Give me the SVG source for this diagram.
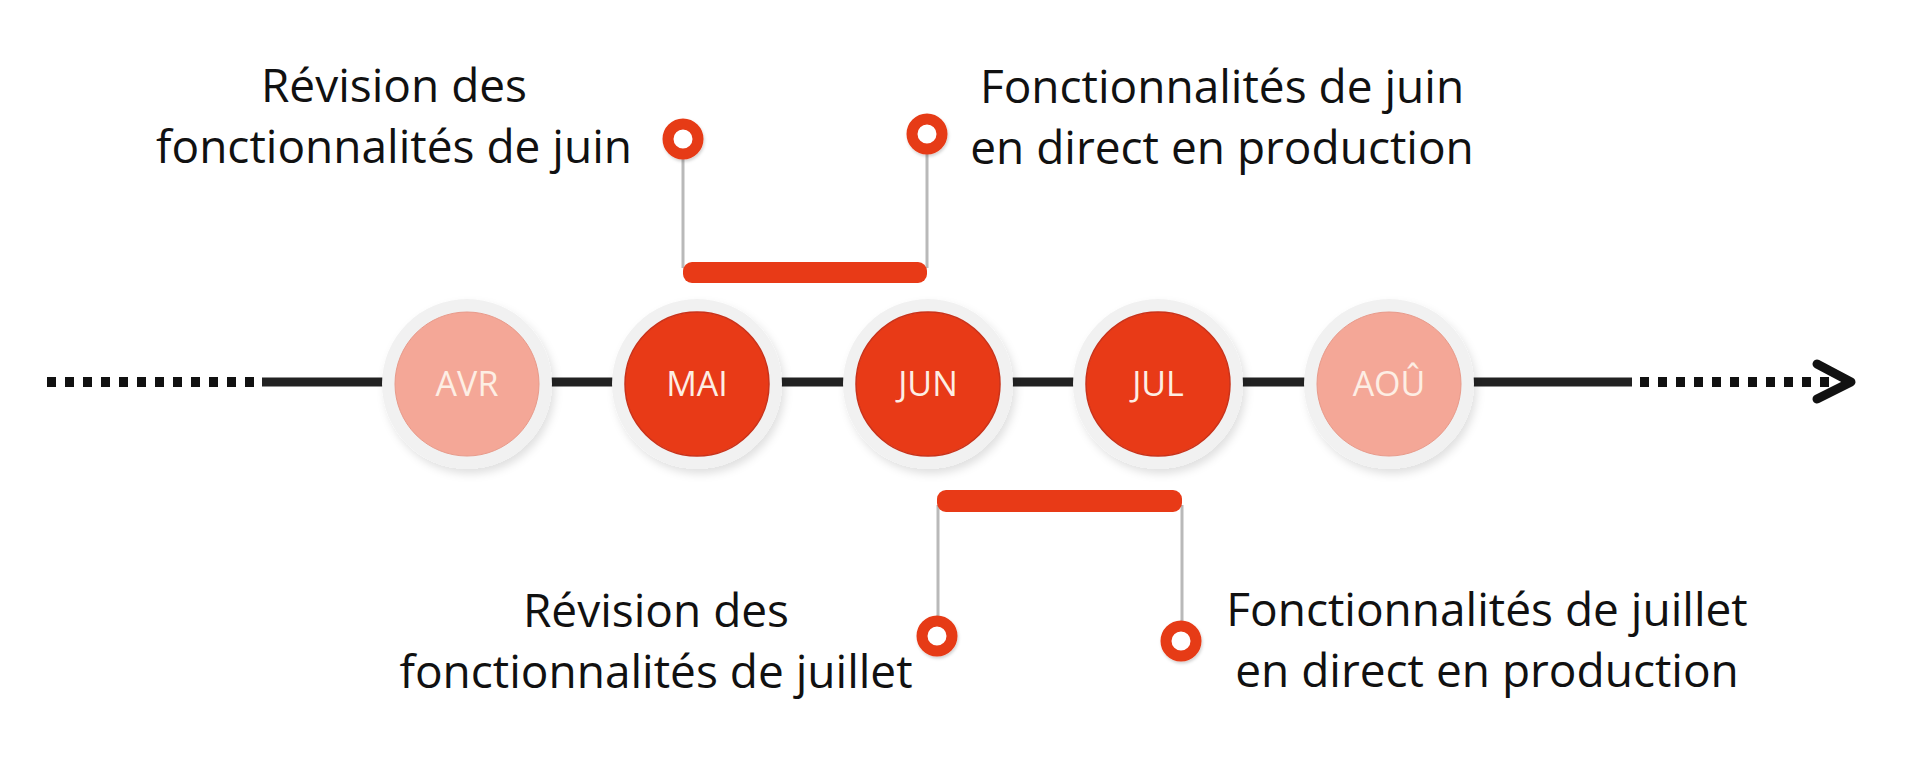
<svg xmlns="http://www.w3.org/2000/svg" width="1907" height="781" viewBox="0 0 1907 781">
<defs>
<filter id="sh" x="-30%" y="-30%" width="160%" height="160%">
<feDropShadow dx="3" dy="5" stdDeviation="4" flood-color="#000" flood-opacity="0.12"/>
</filter>
<filter id="sh2" x="-50%" y="-50%" width="200%" height="200%">
<feDropShadow dx="1" dy="2" stdDeviation="1.5" flood-color="#000" flood-opacity="0.18"/>
</filter>
</defs>
<style>
.ring{fill:#f1f1f1;filter:url(#sh)}
.dark{fill:#e83a17;stroke:#c9321a;stroke-width:1.5}
.light{fill:#f4a797;stroke:#e89a8a;stroke-width:1}
.mon{font-family:"Open Sans","Liberation Sans",sans-serif;font-size:34px;fill:#fdeee4;text-anchor:middle}
.lbl{font-family:"Open Sans","Liberation Sans",sans-serif;font-size:46px;fill:#111;text-anchor:middle}
.axis{stroke:#222;stroke-width:9;fill:none}
.dots{stroke:#111;stroke-width:10;stroke-dasharray:9 9;fill:none}
.stem{stroke:#b9b9b9;stroke-width:3;fill:none}
.bar{fill:#e83a17}
.pin{fill:#fff;stroke:#e63b19;stroke-width:11;filter:url(#sh2)}
</style>
<rect width="1907" height="781" fill="#fff"/>
<g id="connectors">
<line class="dots" x1="47" y1="382" x2="262" y2="382"/>
<line class="axis" x1="262" y1="382" x2="1632" y2="382"/>
<line class="dots" x1="1640" y1="382" x2="1838" y2="382"/>
<polyline points="1817,364 1851,382 1817,399" fill="none" stroke="#111" stroke-width="9" stroke-linecap="round" stroke-linejoin="round"/>
<line class="stem" x1="683" y1="150" x2="683" y2="268"/>
<line class="stem" x1="927" y1="145" x2="927" y2="268"/>
<rect class="bar" x="683" y="262" width="244" height="21" rx="9"/>
<line class="stem" x1="938" y1="505" x2="938" y2="625"/>
<line class="stem" x1="1182" y1="505" x2="1182" y2="630"/>
<rect class="bar" x="937" y="490" width="245" height="22" rx="9"/>
</g>
<g id="avr"><circle class="ring" cx="467" cy="384" r="85"/><circle class="light" cx="467" cy="384" r="72"/><text class="mon" x="467" y="396">AVR</text></g>
<g id="mai"><circle class="ring" cx="697" cy="384" r="85"/><circle class="dark" cx="697" cy="384" r="72"/><text class="mon" x="697" y="396">MAI</text></g>
<g id="jun"><circle class="ring" cx="928" cy="384" r="85"/><circle class="dark" cx="928" cy="384" r="72"/><text class="mon" x="928" y="396">JUN</text></g>
<g id="jul"><circle class="ring" cx="1158" cy="384" r="85"/><circle class="dark" cx="1158" cy="384" r="72"/><text class="mon" x="1158" y="396">JUL</text></g>
<g id="aou"><circle class="ring" cx="1389" cy="384" r="85"/><circle class="light" cx="1389" cy="384" r="72"/><text class="mon" x="1389" y="396">AOÛ</text></g>
<g id="jun-review"><circle class="pin" cx="683" cy="139" r="15"/><text class="lbl" x="394" y="102">Révision des</text><text class="lbl" x="394" y="163">fonctionnalités de juin</text></g>
<g id="jun-live"><circle class="pin" cx="927" cy="134" r="15"/><text class="lbl" x="1222" y="103">Fonctionnalités de juin</text><text class="lbl" x="1222" y="164">en direct en production</text></g>
<g id="jul-review"><circle class="pin" cx="937" cy="636" r="15"/><text class="lbl" x="656" y="627">Révision des</text><text class="lbl" x="656" y="688">fonctionnalités de juillet</text></g>
<g id="jul-live"><circle class="pin" cx="1181" cy="641" r="15"/><text class="lbl" x="1487" y="626">Fonctionnalités de juillet</text><text class="lbl" x="1487" y="687">en direct en production</text></g>
</svg>
